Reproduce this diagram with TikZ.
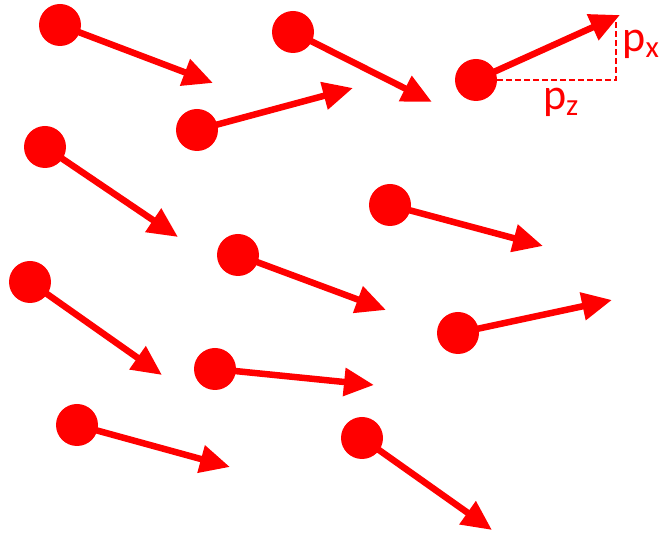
\documentclass[tikz,border=0pt]{standalone}
\usepackage{fontspec}
\setmainfont{Carlito}
\usetikzlibrary{arrows.meta,positioning}
\tikzset{
    particle/.style={circle, fill=red, inner sep=0pt, minimum size=42pt},
    momentum/.style={line width=6.5pt, red, -{Triangle[length=30pt,width=27pt]}},
    component/.style={line width=2.5pt, red, dash pattern=on 6pt off 3pt},
    complabel/.style={text=red, font=\fontsize{44}{50}\selectfont, inner sep=0pt}
}

\begin{document}
\begin{tikzpicture}[x=1pt, y=-1pt]
    \useasboundingbox (0,0) rectangle (665,534);
    % particles
    \node[particle] (b1) at (60,25) {};
    \node[particle] (b2) at (293,32) {};
    \node[particle] (b3) at (476,80) {};
    \node[particle] (b4) at (197,130) {};
    \node[particle] (b5) at (45,147) {};
    \node[particle] (b6) at (390,205) {};
    \node[particle] (b7) at (238,255) {};
    \node[particle] (b8) at (30,282) {};
    \node[particle] (b9) at (458,333) {};
    \node[particle] (b10) at (215,369) {};
    \node[particle] (b11) at (77,425) {};
    \node[particle] (b12) at (362,438) {};
    % arrow tips
    \coordinate (t1) at (213,83);
    \coordinate (t2) at (432,102);
    \coordinate (t3) at (620,15);
    \coordinate (t4) at (353,88);
    \coordinate (t5) at (178,237);
    \coordinate (t6) at (543,246);
    \coordinate (t7) at (386,310);
    \coordinate (t8) at (162,375);
    \coordinate (t9) at (612,300);
    \coordinate (t10) at (374,385);
    \coordinate (t11) at (230,467);
    \coordinate (t12) at (492,530);
    \foreach \i in {1,...,12}
        \draw[momentum] (b\i.center) -- (t\i);
    % components
    \coordinate (corner) at (616,80);
    \coordinate (top) at (616,20);
    \draw[component] (b3.east) -- (corner) -- (top);
    \node[complabel] (px) at (641,44) {p\textsubscript{x}};
    \node[complabel] (pz) at (561,102) {p\textsubscript{z}};
\end{tikzpicture}
\end{document}
